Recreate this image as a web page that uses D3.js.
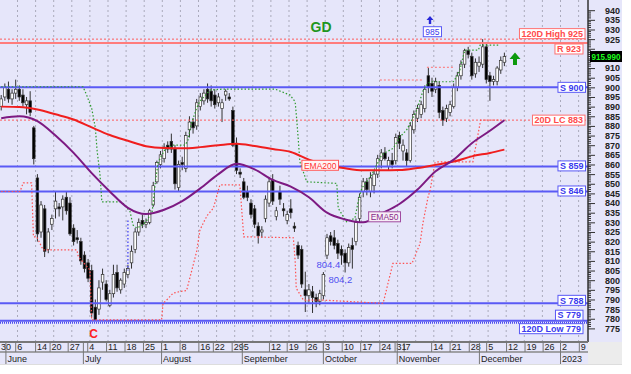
<!DOCTYPE html>
<html>
<head>
<meta charset="utf-8">
<script src="https://cdn.jsdelivr.net/npm/d3@7"></script>
<style>
  body { margin: 0; background: #fff; overflow: hidden; }
  svg { display: block; }
  text { font-family: Arial, "Liberation Sans", sans-serif; }
</style>
</head>
<body>
<div id="chart"></div>
<script>
// daily candles [open, high, low, close], one per trading day from 30 May
const candles = [
  [890,896,888,894],[895,902,893,900],[899,903,892,894],[894,899,891,897],[897,904,894,899],
  [899,901,893,895],[896,899,890,892],[891,895,886,893],[893,898,885,887],[879,880,860,863],
  [853,855,820,824],[825,841,822,839],[837,839,812,815],[816,827,814,825],[829,834,826,832],
  [837,846,832,841],[838,840,833,837],[838,844,831,842],[843,846,834,836],[840,843,823,824],
  [827,829,818,820],[822,826,819,821],[820,822,808,810],[813,815,804,806],[809,811,799,801],
  [805,808,781,783],[786,790,779,779.5],[785,800,782,796],[799,806,795,803],[798,800,789,790],
  [787,795,786,793],[793,808,791,803],[804,808,794,796],[795,801,793,800],[798,806,796,804],
  [803,808,801,806],[809,818,806,815],[816,827,814,825],[825,832,823,830],[831,834,827,829],
  [829,832,827,830],[830,837,829,836],[839,851,838,849],[851,862,850,861],[860,867,858,865],
  [863,871,861,869],[870,872,866,868],[872,876,866,868],[868,870,847,850],[848,862,846,860],
  [861,864,857,860],[858,877,856,875],[878,885,874,882],[882,884,876,879],[880,894,878,892],
  [890,897,888,895],[893,899,891,897],[899,902,892,894],[898,901,890,893],[896,899,889,891],
  [892,897,890,895],[889,894,882,892],[896,899,893,898],[895,897,893,894],[888,890,869,870],
  [871,874,855,857],[856,858,853,855],[851,853,842,843],[846,849,841,843],[840,842,832,834],
  [837,839,827,829],[828,830,819,823],[825,828,822,826],[832,844,830,842],[840,853,838,851],
  [852,855,839,841],[833,838,831,836],[846,849,839,842],[837,840,833,836],[831,836,829,834],
  [837,842,832,835],[828,830,825,827],[818,820,811,813],[816,818,796,798],[795,804.4,783.5,792],
  [792,798,788,795],[794,797,783,791],[791,793,786,789],[789,795,787,793],[792,804.2,790,803],
  [813,824,811,822],[823,825,818,820],[822,826,816,818],[819,821,811,814],[816,818,808,813],
  [814,816,804,809],[809,819,807,817],[818,822,806,816],[820,832,818,830],[832,845,830,843],
  [846,853,843,851],[851,853,844,847],[846,856,843,853],[849,857,845,855],[855,865,853,863],
  [862,868,858,866],[866,869,862,863],[859,864,857,862],[862,866,858,860],[862,876,860,874],
  [875,877,868,871],[867,873,862,870],[866,868,859,862],[862,882,861,880],[878,888,876,886],
  [884,891,882,889],[886,893,884,891],[889,901,887,899],[906,910,897,900],[902,905,895,898],
  [899,905,897,903],[901,903,884,887],[888,890,880,883],[884,891,882,889],[887,893,885,891],
  [890,902,889,900],[900,908,898,906],[906,914,904,912],[912,920,910,919],[919,921,915,917],
  [916,918,904,906],[907,915,905,913],[911,916,908,913],[912,925,910,921],[921,923,902,904],
  [906,908,893,903],[903,906,901,904],[903,911,901,910],[909,916,907,914],[913,918,911,915.99]
];

// moving averages read weekly (day index, value)
const emaDays = [0,5,10,15,20,25,30,35,40,45,50,55,60,65,70,75,80,85,90,95,100,105,110,115,120,125,130,135,139];
const ema200 = [890,889.8,888.5,886,883.3,879.2,875.3,872.3,869.5,868.5,868.4,869,870,870.8,869.6,868,866.5,862.5,859.7,858,857,857,857.1,858.2,859.8,861.5,864.2,866,867.7];
const ema50 = [884,885,882.5,875,866,855.5,846,837.5,834.3,836.5,841,847.6,855,860.4,857.5,852,848.5,843,835,831.5,830,834.5,839.5,847,856.5,862.5,871,877.5,883];

// 20 day channels (day index, value)
const highChannel = [
  [0,900.3],[22.6,900.3],[23.6,896],[25,889],[26,879],[26.5,867],[27.3,854.5],[27.8,840.6],[32.8,840.6],
  [33.6,840],[35.6,835.5],[36.4,828.6],[37.5,827],[39,828.6],[40,830.3],[41.7,835.5],[42.5,849.4],
  [43.3,860.8],[44.4,865],[45.2,867.5],[47.5,870],[50.8,870],[51.6,872.7],[52.4,880.5],[54,889.3],
  [54.8,892.6],[57.7,898.6],[61.3,899.1],[75.6,899.1],[79.8,896],[81.2,892.5],[81.6,884],[82.1,872],
  [82.5,861.4],[84.4,851],[92.7,850.2],[93.1,837.3],[95.4,830.3],[97.7,832.1],[98.6,840.7],[99.6,847.6],
  [100.9,851],[102.3,854.5],[103.7,859.7],[105.1,864.9],[106.5,866.6],[108.3,868.4],[110.2,874.4],
  [112,877.9],[113.4,883],[114.8,888.2],[116.6,898.6],[117.5,901.2],[118.5,902.9],[124.9,902.9],
  [125.8,905.5],[126.7,909],[127.7,916.7],[128.1,919.3],[131.8,919.3],[132.3,921.9],[137.3,921.9]
];
const lowChannel = [
  [0,846],[5.2,846],[6.1,850.5],[8.4,850.5],[8.9,822.5],[9.8,822.5],[11.6,815.7],[20.9,815.7],
  [21.3,812.2],[24.5,805.3],[25,779.4],[44.3,779.4],[44.7,788],[45.7,789.7],[47.5,793.3],[49.4,794.1],
  [51.2,794.6],[52.2,801.8],[54,815],[54.9,826],[56,830.3],[57,833.8],[58.6,837.3],[60.4,849.4],
  [65.8,849.4],[66,847.6],[66.5,835],[67,822.5],[80.7,822],[81.2,810],[81.5,795.8],[83.5,789.7],
  [88.5,789.7],[105.5,788],[108.2,808.7],[113.5,808.7],[113.8,810.2],[115.7,819],[116.5,829.7],
  [117.9,843],[118.5,846.8],[119.8,860.8],[120.4,861.4],[130.3,861.4],[132.3,881.5],[132.4,883],[138,883]
];
const oldHighs = [[104.6,116.5,903.8],[117.6,124.8,910.4]];

const supportLevels = [900, 859, 846, 788, 779];
const resistance = 923;
const high120 = 925, low120 = 779, lowChannelLast = 883;
const lastPrice = 915.99;

const tickLabels = ["30","6","14","20","27","4","11","18","25","1","8","16","22","29","5","12","19","26","3","10","17","24","31","7","14","21","28","5","12","19","26","2","9"];
const tickDays = [0,4.5,10,14,19,24.4,29.6,34.7,39.8,44.8,49.9,55.1,59.1,64.3,67.1,74.6,79.5,84.7,89.5,94.7,99.8,105.1,109.3,111.8,119.4,124.5,129.8,134.6,140.1,145.2,150.2,155,160.2];
const monthNames = ["June","July","August","September","October","November","December","2023"];
const monthDays = [1.8,23.2,44.8,67.1,89.5,109.9,132.6,155];

const W = 588, H = 342;
const BG = "#e6e6fa";

const svg = d3.select("#chart").append("svg").attr("width", 631).attr("height", 374);

const x = d3.scaleLinear().domain([-0.5, 162.5]).range([-0.6, -0.6 + 3.62 * 163]);
const y = d3.scaleLinear().domain([775, 940]).range([328.4, 10.2]);

svg.append("rect").attr("width", 622).attr("height", 365).attr("fill", BG);
svg.append("rect").attr("x", W).attr("y", H).attr("width", 34).attr("height", 23).attr("fill", "#ececec");

svg.append("defs").append("clipPath").attr("id", "plot")
  .append("rect").attr("width", W).attr("height", H);

const plot = svg.append("g").attr("clip-path", "url(#plot)");

// weekly grid
plot.selectAll(".grid")
  .data(d3.range(1, 33))
  .join("line")
  .attr("x1", k => x(k * 5 - 0.5)).attr("x2", k => x(k * 5 - 0.5))
  .attr("y1", 0).attr("y2", H)
  .attr("stroke", "#aaaabb").attr("stroke-dasharray", "2,3");

// candles
const candle = plot.append("g").selectAll("g").data(candles).join("g");
candle.append("line")
  .attr("x1", (d, i) => x(i)).attr("x2", (d, i) => x(i))
  .attr("y1", d => y(d[1])).attr("y2", d => y(d[2]))
  .attr("stroke", "#333").attr("stroke-width", 1);
candle.append("rect")
  .attr("x", (d, i) => x(i) - 1.3).attr("width", 2.6)
  .attr("y", d => y(Math.max(d[0], d[3])))
  .attr("height", d => Math.max(1, Math.abs(y(d[0]) - y(d[3]))))
  .attr("fill", d => d[3] >= d[0] ? "#fff" : "#000")
  .attr("stroke", "#333").attr("stroke-width", 0.7);

// horizontal levels
const hline = (v, color, width, dash, dy = 0) => plot.append("line")
  .attr("x1", 0).attr("x2", W).attr("y1", y(v) + dy).attr("y2", y(v) + dy)
  .attr("stroke", color).attr("stroke-width", width)
  .attr("stroke-dasharray", dash);

hline(high120, "#ff5c5c", 1, "2,2");
hline(resistance, "#ff7c7c", 2, null);
hline(lowChannelLast, "#ff5c5c", 1, "2,2");
supportLevels.forEach(v => hline(v, "#5a5af5", 2, null));
hline(low120, "#4b4bf0", 2, "1,1", 2);

plot.selectAll(".oldhigh").data(oldHighs).join("line")
  .attr("x1", d => x(d[0])).attr("x2", d => x(d[1]))
  .attr("y1", d => y(d[2])).attr("y2", d => y(d[2]))
  .attr("stroke", "#ff7070").attr("stroke-dasharray", "2,2");

// marker on the rebound
plot.append("line")
  .attr("x1", x(35)).attr("x2", x(35)).attr("y1", y(831)).attr("y2", y(805))
  .attr("stroke", "#5a5af5").attr("stroke-width", 1.5).attr("stroke-dasharray", "1.5,2");

// channels
const chLine = d3.line().x(d => x(d[0])).y(d => y(d[1]));
plot.append("path").attr("d", chLine(highChannel))
  .attr("fill", "none").attr("stroke", "#2e9a2e").attr("stroke-width", 1.2).attr("stroke-dasharray", "1.5,2");
plot.append("path").attr("d", chLine(lowChannel))
  .attr("fill", "none").attr("stroke", "#ff5050").attr("stroke-width", 1.2).attr("stroke-dasharray", "1.5,2");

// moving averages
const emaLine = d3.line().x((d, i) => x(emaDays[i])).y(d => y(d)).curve(d3.curveMonotoneX);
plot.append("path").attr("d", emaLine(ema200))
  .attr("fill", "none").attr("stroke", "#f01e1e").attr("stroke-width", 2);
plot.append("path").attr("d", emaLine(ema50))
  .attr("fill", "none").attr("stroke", "#7d1a82").attr("stroke-width", 2);

// boxed labels
function tag(g, text, xr, yc, stroke, fill, color, opts = {}) {
  const t = g.append("text").text(text)
    .attr("font-size", opts.size || 9).attr("font-weight", opts.weight || "bold")
    .attr("fill", color).attr("text-anchor", "end")
    .attr("x", xr - 2).attr("y", yc + 3.3);
  const w = t.node().getComputedTextLength();
  g.insert("rect", () => t.node())
    .attr("x", xr - w - 4).attr("y", yc - 5).attr("width", w + 4).attr("height", 10)
    .attr("fill", fill).attr("stroke", stroke).attr("stroke-width", 1);
}

const labels = svg.append("g");
const red = "#ff4b4b", blue = "#3a3aee";
tag(labels, "120D High " + high120, 585, y(high120) - 5.5, "#ff7070", "#fff", red);
tag(labels, "R " + resistance, 583, y(resistance) + 6, "#ff7070", "#fff", red);
tag(labels, "20D LC " + lowChannelLast, 585, y(lowChannelLast), "#ff7070", "#fff", red);
const supportDy = [0, -0.5, -0.5, -3, -5.5];
supportLevels.forEach((v, i) => tag(labels, "S " + v, i === 4 ? 583 : 585.5, y(v) + supportDy[i], "#5a5af5", "#fff", blue));
tag(labels, "120D Low " + low120, 583, y(low120) + 8, "#5a5af5", "#fff", blue);

tag(labels, "EMA200", 338.5, 165.3, "#ff5a5a", "#fff4f4", "#ff3030", { weight: "normal", size: 8.5 });
tag(labels, "EMA50", 400.5, 216.8, "#a04ca0", "#f6eef6", "#8a2a8a", { weight: "normal", size: 8.5 });

labels.append("text").text("804.4").attr("x", x(87.1)).attr("y", y(804.4) - 3.4)
  .attr("font-size", 9.5).attr("fill", "#5050f0");
labels.append("text").text("804,2").attr("x", x(90.4)).attr("y", y(804.2) + 11)
  .attr("font-size", 9.5).attr("fill", "#5050f0");

labels.append("text").text("GD").attr("x", 321).attr("y", 32).attr("text-anchor", "middle")
  .attr("font-size", 14).attr("font-weight", "bold").attr("fill", "#1e961e");
labels.append("text").text("C").attr("x", x(25.5)).attr("y", 338).attr("text-anchor", "middle")
  .attr("font-size", 12).attr("font-weight", "bold").attr("fill", "#ff2020");

// blue arrow with 985 box
labels.append("path").attr("d", "M430,16 l-3.5,4 h2.3 v4 h2.4 v-4 h2.3 z").attr("fill", "#2828d8");
tag(labels, "985", 441.5, 31.7, "#5a5af5", "#fff", blue, { weight: "normal", size: 8.5 });

// green arrow
labels.append("path").attr("d", "M515,52.5 l-5.5,6.5 h3.5 v6 h4 v-6 h3.5 z").attr("fill", "#0d9a0d");

// right price axis
const axisG = svg.append("g").attr("transform", `translate(${W},0)`);
axisG.call(d3.axisRight(y).tickValues(d3.range(775, 941, 5)).tickSize(7).tickPadding(10))
  .call(g => g.select(".domain").remove());
// labels sitting under the last price tag are hidden in the original
axisG.selectAll(".tick").filter(d => d === 920 || d === 915).select("text").remove();
axisG.selectAll("text").attr("font-size", 9).attr("font-weight", "bold").attr("fill", "#222")
  .attr("font-family", "Arial, 'Liberation Sans', sans-serif");
axisG.selectAll(".tick line").attr("stroke", "#333");
axisG.selectAll(".minor").data(d3.range(775, 941).filter(v => v % 5 !== 0)).join("line")
  .attr("x1", 0).attr("x2", 3).attr("y1", d => y(d)).attr("y2", d => y(d)).attr("stroke", "#333");
axisG.append("line").attr("y1", 0).attr("y2", H).attr("stroke", "#333").attr("stroke-width", 1.5);

// last price tag
svg.append("rect").attr("x", 590).attr("y", y(lastPrice) - 5.5).attr("width", 32).attr("height", 11).attr("fill", "#000");
svg.append("text").text(lastPrice.toFixed(3)).attr("x", 606).attr("y", y(lastPrice) + 3.3)
  .attr("text-anchor", "middle").attr("textLength", 29).attr("lengthAdjust", "spacingAndGlyphs")
  .attr("font-size", 8.6).attr("font-weight", "bold").attr("fill", "#1cff1c");

// date axis
const dateG = svg.append("g");
dateG.append("line").attr("x1", 0).attr("x2", W).attr("y1", H).attr("y2", H).attr("stroke", "#777").attr("stroke-width", 2);
dateG.append("line").attr("x1", 0).attr("x2", W).attr("y1", 352).attr("y2", 352).attr("stroke", "#888").attr("stroke-width", 1.5);
dateG.append("line").attr("x1", 0).attr("x2", 622).attr("y1", 364.5).attr("y2", 364.5).attr("stroke", "#ddd").attr("stroke-width", 1);

dateG.selectAll(".tsep").data(tickDays).join("line")
  .attr("x1", d => x(d - 0.5)).attr("x2", d => x(d - 0.5))
  .attr("y1", H).attr("y2", 352).attr("stroke", "#777");
dateG.selectAll(".tlab").data(tickLabels).join("text")
  .attr("x", (d, i) => x(tickDays[i] - 0.5) + 1.5).attr("y", 350)
  .attr("font-size", 9).attr("fill", "#222").text(d => d);

dateG.selectAll(".msep").data(monthDays).join("line")
  .attr("x1", d => x(d - 0.5)).attr("x2", d => x(d - 0.5))
  .attr("y1", H).attr("y2", 364).attr("stroke", "#777");
dateG.selectAll(".mlab").data(monthNames).join("text")
  .attr("x", (d, i) => x(monthDays[i] - 0.5) + 1.5).attr("y", 361.5)
  .attr("font-size", 9).attr("fill", "#222").text(d => d);
</script>
</body>
</html>
